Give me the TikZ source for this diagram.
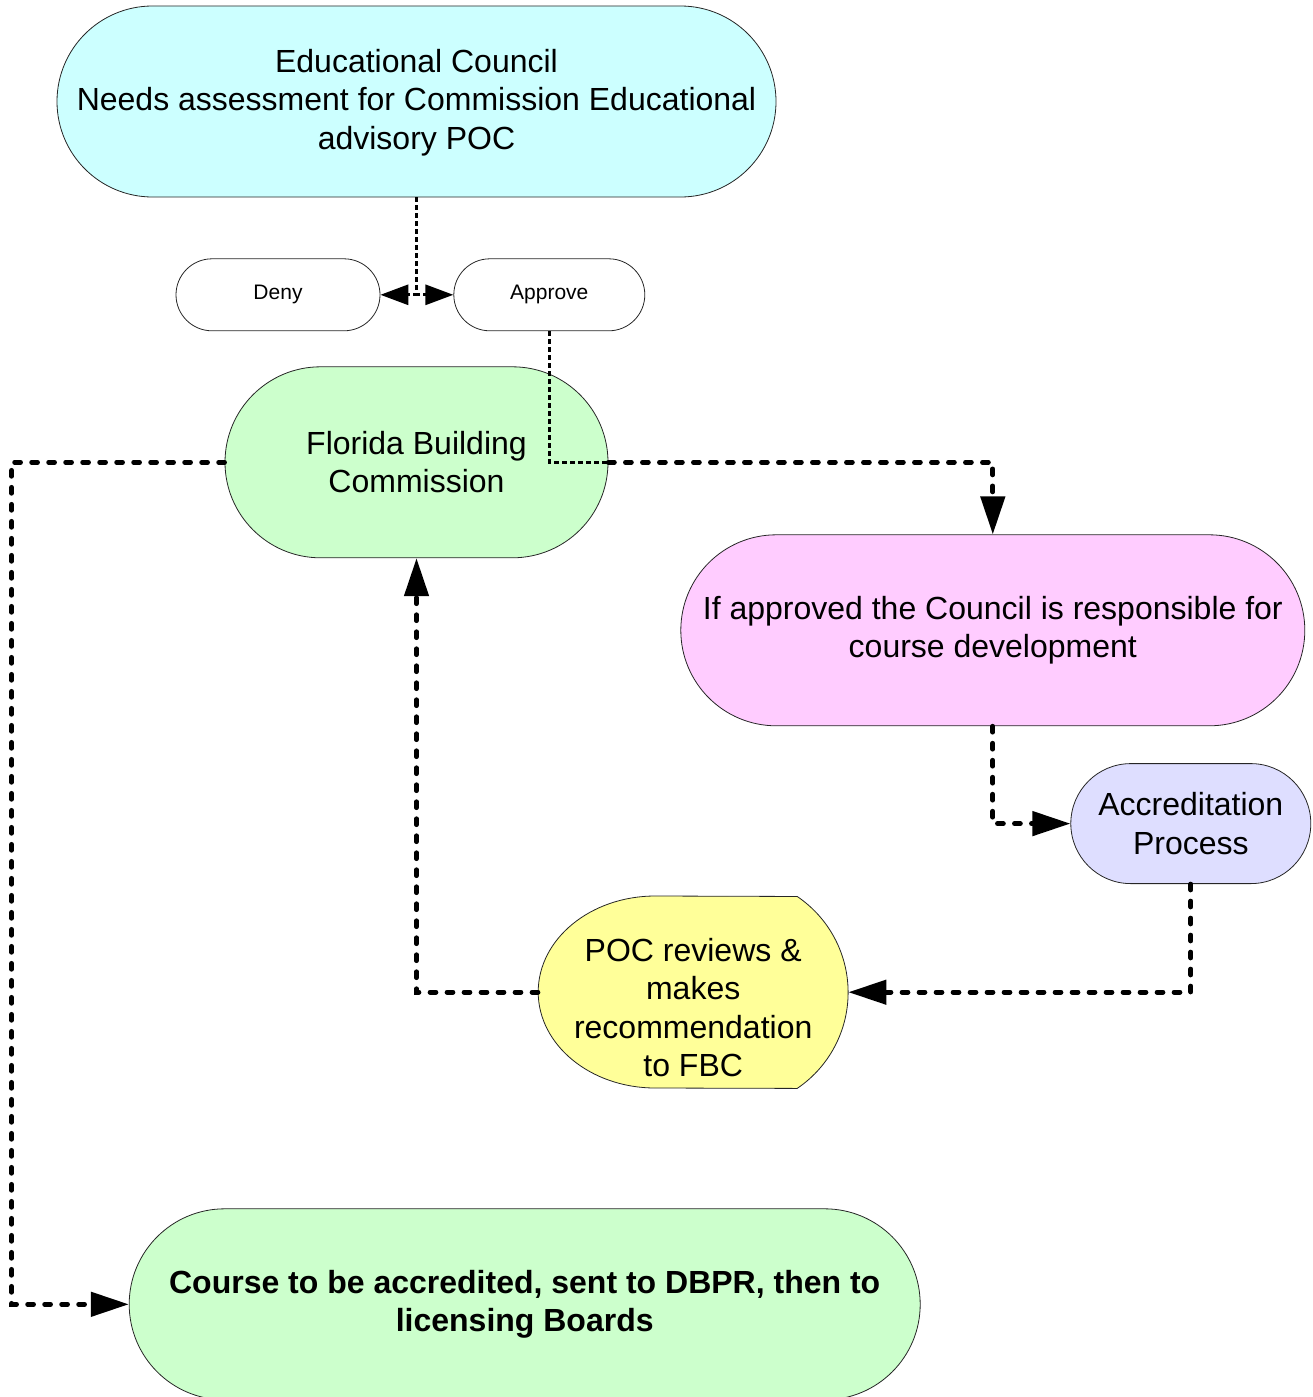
\documentclass[tikz,border=0pt]{standalone}
\usepackage{fontspec}
\setmainfont{Liberation Sans}
\usetikzlibrary{arrows.meta,positioning,backgrounds}

\definecolor{educyan}{RGB}{204,255,255}
\definecolor{fbcgreen}{RGB}{204,255,204}
\definecolor{ifpink}{RGB}{255,204,255}
\definecolor{accrblue}{RGB}{222,222,255}
\definecolor{pocyellow}{RGB}{255,255,153}

\begin{document}
\begin{tikzpicture}[
    capsule/.style={rectangle, draw=black!85, line width=0.8pt, rounded corners=#1, inner sep=0pt, align=center, font=\fontsize{32}{38.5}\selectfont},
    smalltext/.style={font=\fontsize{21}{25}\selectfont},
    flow/.style={line width=4.7pt, dash pattern=on 6pt off 11pt, line cap=round},
    flowarrow/.style={flow, -{Triangle[length=38pt,width=24pt]}},
    hint/.style={line width=3pt, dash pattern=on 5pt off 3pt},
    hintarrow/.style={hint, -{Triangle[length=28pt,width=20pt]}}
]
    \useasboundingbox (0,0) rectangle (1312pt,-1397pt);

    % Educational Council
    \node [capsule=95.5pt, fill=educyan, minimum width=719pt, minimum height=191pt] (edu) at (416.5pt,-101.5pt) {\raisebox{-1.5pt}[\height][\depth]{\begin{tabular}{@{}c@{}}Educational Council\\Needs assessment for Commission Educational\\advisory POC\end{tabular}}};

    % Decision
    \node [capsule=36pt, smalltext, minimum width=204pt, minimum height=72pt, below=61pt of edu, xshift=-138.5pt] (deny) {Deny};
    \node [capsule=36pt, smalltext, minimum width=191pt, minimum height=72pt, right=73pt of deny] (approve) {Approve};

    % Florida Building Commission
    \node [capsule=95.5pt, fill=fbcgreen, minimum width=383pt, minimum height=191pt, below=169pt of edu] (fbc) {Florida Building\\Commission};

    % Course development
    \node [capsule=95.5pt, fill=ifpink, minimum width=624pt, minimum height=191pt, right=72pt of fbc, yshift=-168pt] (ifapp) {If approved the Council is responsible for\\course development};

    % Accreditation
    \node [capsule=60pt, fill=accrblue, minimum width=240pt, minimum height=120pt, below=37pt of ifapp, xshift=198pt] (accr) {Accreditation\\Process};

    % POC review
    \node [rectangle, inner sep=0pt, minimum width=310pt, minimum height=192pt, font=\fontsize{32}{38.5}\selectfont, below left=12pt and 222pt of accr] (poc) {\raisebox{-19pt}[\height][\depth]{\begin{tabular}{@{}c@{}}POC reviews \&\\makes\\recommendation\\to FBC\end{tabular}}};
    \begin{scope}[on background layer]
        \draw [draw=black!85, line width=0.8pt, fill=pocyellow] ([xshift=-38pt]poc.north) arc [start angle=90, end angle=270, x radius=117pt, y radius=96pt] -- ([xshift=104pt]poc.south) arc [start angle=-55.9, end angle=55.9, radius=115.9pt] -- cycle;
    \end{scope}

    % Final course
    \node [capsule=95.5pt, fill=fbcgreen, minimum width=791pt, minimum height=191pt, font=\fontsize{32}{38.5}\selectfont\bfseries, below=120pt of poc, xshift=-168.5pt] (course) {Course to be accredited, sent to DBPR, then to\\licensing Boards};

    % Arrows
    \draw [hintarrow] (edu.south) |- (deny.east);
    \draw [hintarrow] (edu.south) |- (approve.west);
    \draw [hint] (approve.south) |- (fbc.east);
    \draw [flowarrow] (fbc.east) -| (ifapp.north);
    \draw [flowarrow] (fbc.west) -- ++(-213pt,0) |- (course.west);
    \draw [flowarrow] (ifapp.south) |- (accr.west);
    \draw [flowarrow] (accr.south) |- (poc.east);
    \draw [flowarrow] (poc.west) -| (fbc.south);
\end{tikzpicture}
\end{document}
